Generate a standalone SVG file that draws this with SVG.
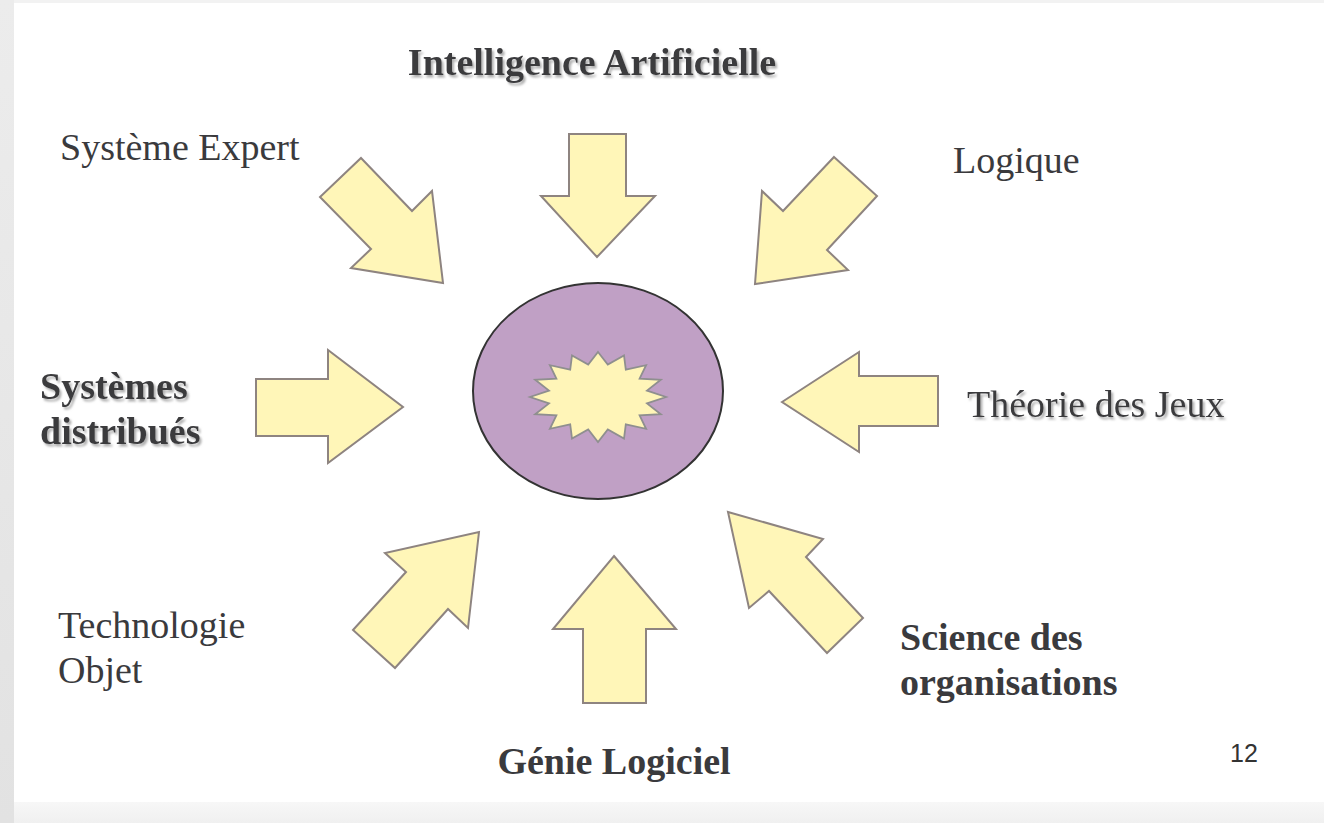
<svg xmlns="http://www.w3.org/2000/svg" width="1324" height="823" viewBox="0 0 1324 823">
  <style>
    .lbl { font-family: "Liberation Serif", "Times New Roman", serif; font-size: 38px; fill: #3a3a3d; }
    .b { font-weight: bold; }
    .sh { filter: url(#shadow); }
    .arrow { fill: #fff6b8; stroke: #8e8480; stroke-width: 2; stroke-linejoin: miter; }
    .page { font-family: "Liberation Sans", Arial, sans-serif; font-size: 25px; fill: #333333; }
  </style>
  <defs>
    <filter id="shadow" x="-5%" y="-20%" width="115%" height="150%">
      <feDropShadow dx="2" dy="2.5" stdDeviation="0.8" flood-color="#a0a0a0" flood-opacity="0.85"/>
    </filter>
    <linearGradient id="edge" x1="0" y1="0" x2="0" y2="1">
      <stop offset="0" stop-color="#ececec"/>
      <stop offset="1" stop-color="#e2e2e2"/>
    </linearGradient>
    <linearGradient id="foot" x1="0" y1="0" x2="0" y2="1">
      <stop offset="0" stop-color="#f7f7f7"/>
      <stop offset="1" stop-color="#f0f0f0"/>
    </linearGradient>
  </defs>

  <!-- page background and frame -->
  <rect x="0" y="0" width="1324" height="823" fill="#ffffff"/>
  <rect x="0" y="0" width="1324" height="3" fill="#f2f2f2"/>
  <rect x="0" y="802" width="1324" height="21" fill="url(#foot)"/>
  <rect x="0" y="0" width="14" height="823" fill="url(#edge)"/>

  <!-- central disc with starburst -->
  <g id="centre">
    <ellipse cx="598" cy="391" rx="125" ry="108" fill="#c0a0c5" stroke="#333333" stroke-width="2"/>
    <polygon fill="#fff5b8" stroke="#8f8f8f" stroke-width="1.8"
      points="598,352 607.8,364.6 624,355.4 625.8,369.6 646.1,365.2 639.6,378.7 660.8,379.8 647,390.6 666,397 647,403.4 660.8,414.2 639.6,415.3 646.1,428.8 625.8,424.4 624,438.6 607.8,429.4 598,442 588.2,429.4 572,438.6 570.2,424.4 549.9,428.8 556.4,415.3 535.2,414.2 549,403.4 530,397 549,390.6 535.2,379.8 556.4,378.7 549.9,365.2 570.2,369.6 572,355.4 588.2,364.6"/>
  </g>

  <!-- block arrows pointing at the centre -->
  <g id="connectors">
    <polygon class="arrow" points="361,158 412,211 432,191 443,283 351,268 371,249 320,197"/>
    <polygon class="arrow" points="569,134 626,134 626,196 655,196 597,257 541,196 569,196"/>
    <polygon class="arrow" points="834,157 877,196 827,250 848,270 755,284 762,191 783,211"/>
    <polygon class="arrow" points="256,379 328,379 328,350 403,407 328,463 328,436 256,436"/>
    <polygon class="arrow" points="782,402 859,352 859,376 938,376 938,426 859,426 859,452"/>
    <polygon class="arrow" points="479,532 468,628 448,609 395,668 353,630 406,572 385,553"/>
    <polygon class="arrow" points="614,556 676,629 646,629 646,703 583,703 583,629 553,629"/>
    <polygon class="arrow" points="728,512 823,539 806,557 863,618 827,653 769,591 749,608"/>
  </g>

  <!-- labels -->
  <g id="ia">
    <text class="lbl b sh" x="592" y="75" text-anchor="middle">Intelligence Artificielle</text>
  </g>
  <g id="systeme-expert">
    <text class="lbl" x="60" y="160">Système Expert</text>
  </g>
  <g id="logique">
    <text class="lbl" x="953" y="173">Logique</text>
  </g>
  <g id="systemes-distribues">
    <text class="lbl b sh" x="40" y="399">Systèmes</text>
    <text class="lbl b sh" x="40" y="444">distribués</text>
  </g>
  <g id="theorie-jeux">
    <text class="lbl sh" x="967" y="417">Théorie des Jeux</text>
  </g>
  <g id="technologie-objet">
    <text class="lbl" x="58" y="638">Technologie</text>
    <text class="lbl" x="58" y="683">Objet</text>
  </g>
  <g id="science-organisations">
    <text class="lbl b" x="900" y="650">Science des</text>
    <text class="lbl b" x="900" y="695">organisations</text>
  </g>
  <g id="genie-logiciel">
    <text class="lbl b" x="614" y="774" text-anchor="middle">Génie Logiciel</text>
  </g>

  <text class="page" x="1230" y="762">12</text>
</svg>
